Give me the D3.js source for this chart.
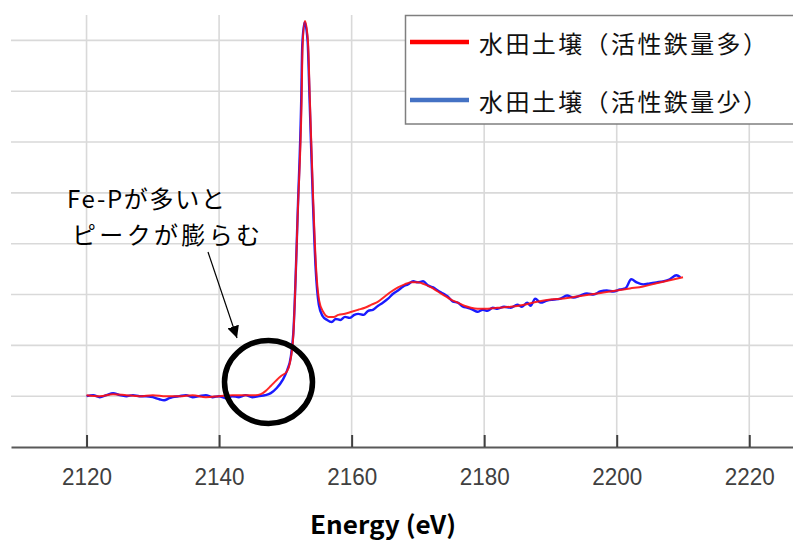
<!DOCTYPE html>
<html>
<head>
<meta charset="utf-8">
<script src="https://cdn.jsdelivr.net/npm/d3@7"></script>
<style>
  html, body { margin: 0; padding: 0; background: #fff; }
  svg { display: block; }
</style>
</head>
<body>
<svg id="chart"></svg>
<script>
'use strict';

/* Tick labels of the energy axis (eV) */
var xTicks = [2120, 2140, 2160, 2180, 2200, 2220];
/* Normalised absorbance grid (no labels shown in the original) */
var yGrid = [0, 0.5, 1, 1.5, 2, 2.5, 3, 3.5];

var seriesNames = ['水田土壌（活性鉄量多）', '水田土壌（活性鉄量少）'];

/* [energy, normalised absorbance] */
var highFe = [
  [2120, 0.01], [2122, 0.00], [2124, 0.02], [2126, 0.01], [2128, 0.00],
  [2130, 0.01], [2132, 0.00], [2134, 0.00], [2136, 0.01], [2138, -0.01],
  [2140, 0.00], [2142, 0.01], [2144, 0.01], [2145.5, 0.01], [2146.3, 0.02],
  [2147.0, 0.05], [2147.8, 0.10], [2148.7, 0.16], [2149.4, 0.20], [2150.2, 0.24],
  [2150.7, 0.33], [2151.2, 0.60], [2151.9, 1.85], [2152.45, 2.91], [2152.6, 3.45],
  [2152.95, 3.69], [2153.4, 3.50], [2153.7, 2.91], [2154.2, 1.93], [2154.6, 1.30],
  [2155.1, 0.94], [2155.7, 0.83], [2156.5, 0.78], [2157.3, 0.78], [2158, 0.80],
  [2159, 0.81], [2160, 0.83], [2161, 0.85], [2162, 0.87], [2163, 0.90],
  [2164, 0.93], [2165, 0.98], [2166, 1.03], [2167, 1.07], [2168, 1.10],
  [2169, 1.12], [2170, 1.12], [2171, 1.10], [2172, 1.07], [2173, 1.03],
  [2174, 0.99], [2175, 0.95], [2176, 0.92], [2177, 0.89], [2178, 0.87],
  [2179, 0.86], [2180, 0.86], [2182, 0.87], [2184, 0.88], [2186, 0.90],
  [2188, 0.93], [2190, 0.95], [2192, 0.96], [2194, 0.98], [2196, 1.00],
  [2198, 1.02], [2200, 1.04], [2202, 1.06], [2204, 1.08], [2206, 1.11],
  [2208, 1.14], [2210, 1.17]
];

var lowFe = [
  [2120, 0.00], [2121, 0.01], [2122, -0.01], [2123, 0.01], [2124, 0.03],
  [2125, 0.01], [2126, 0.00], [2127, 0.01], [2128, 0.00], [2129, 0.00],
  [2130, -0.01], [2131, -0.03], [2131.7, -0.04], [2132.5, -0.02], [2133, -0.01],
  [2134, 0.00], [2135, 0.01], [2136, -0.01], [2137, 0.00], [2138, 0.01],
  [2139, -0.01], [2140, 0.00], [2141, -0.02], [2142, 0.00], [2143, -0.01],
  [2144, 0.01], [2145, -0.01], [2146, 0.00], [2147, 0.01], [2147.8, 0.03],
  [2148.7, 0.08], [2149.6, 0.16], [2150.3, 0.26], [2150.8, 0.38], [2151.2, 0.62],
  [2151.9, 1.88], [2152.4, 2.93], [2152.55, 3.45], [2152.9, 3.68], [2153.35, 3.50],
  [2153.65, 2.93], [2154.15, 1.93], [2154.55, 1.28], [2155.05, 0.90], [2155.6, 0.79],
  [2156.3, 0.75], [2157, 0.73], [2157.6, 0.76], [2158.3, 0.75], [2159, 0.78],
  [2159.7, 0.77], [2160.4, 0.80], [2161, 0.81], [2161.8, 0.80], [2162.5, 0.84],
  [2163.2, 0.85], [2164, 0.89], [2164.7, 0.92], [2165.5, 0.96], [2166.3, 1.01],
  [2167, 1.04], [2167.8, 1.08], [2168.5, 1.10], [2169.3, 1.13], [2170, 1.12],
  [2170.8, 1.13], [2171.5, 1.09], [2172.3, 1.07], [2173, 1.04], [2173.8, 1.01],
  [2174.5, 0.98], [2175.3, 0.93], [2176, 0.92], [2176.8, 0.88], [2177.5, 0.87],
  [2178.3, 0.85], [2179, 0.83], [2179.8, 0.85], [2180.5, 0.84], [2181.3, 0.87],
  [2182, 0.86], [2183, 0.88], [2184, 0.87], [2185, 0.90], [2185.7, 0.88],
  [2186.5, 0.92], [2187, 0.89], [2187.7, 0.96], [2188.5, 0.92], [2189.5, 0.94],
  [2190.5, 0.95], [2191.5, 0.96], [2192.5, 0.99], [2193.5, 0.97], [2194.5, 0.99],
  [2195.5, 1.01], [2196.5, 1.00], [2197.5, 1.03], [2198.5, 1.04], [2199.5, 1.03],
  [2200.5, 1.05], [2201.3, 1.06], [2202.2, 1.15], [2203, 1.12], [2204, 1.10],
  [2205, 1.11], [2206, 1.12], [2207, 1.13], [2208, 1.15], [2209, 1.19],
  [2209.6, 1.17]
];

var width = 793;
var height = 543;

var svg = d3.select('#chart')
  .attr('width', width)
  .attr('height', height);

/* Scales */
var x = d3.scaleLinear().domain([2108.6, 2226.6]).range([11, 793]);
var y = d3.scaleLinear().domain([-0.5, 3.75]).range([447, 15]);

/* Grid */
var grid = svg.append('g').attr('class', 'grid');
grid.selectAll('.vgrid')
  .data(xTicks)
  .enter().append('line')
    .attr('x1', function(d) { return x(d); })
    .attr('x2', function(d) { return x(d); })
    .attr('y1', y(3.75))
    .attr('y2', y(-0.5))
    .attr('stroke', '#d9d9d9')
    .attr('stroke-width', 1.6);
grid.selectAll('.hgrid')
  .data(yGrid)
  .enter().append('line')
    .attr('x1', 11)
    .attr('x2', width)
    .attr('y1', function(d) { return y(d); })
    .attr('y2', function(d) { return y(d); })
    .attr('stroke', '#d9d9d9')
    .attr('stroke-width', 1.6);

/* x axis, ticks pointing inwards */
var xAxis = d3.axisBottom(x)
  .tickValues(xTicks)
  .tickSizeInner(-12)
  .tickSizeOuter(0)
  .tickPadding(21)
  .tickFormat(d3.format('d'));

var gX = svg.append('g')
  .attr('class', 'x axis')
  .attr('transform', 'translate(0,' + y(-0.5) + ')')
  .call(xAxis);
gX.select('.domain').attr('stroke', '#595959').attr('stroke-width', 2);
gX.selectAll('.tick line').attr('stroke', '#404040').attr('stroke-width', 2);
gX.selectAll('.tick text')
  .attr('fill', '#404040')
  .style('font-family', '"Liberation Sans", Arial, sans-serif')
  .style('font-size', '24px')
  .attr('textLength', 50)
  .attr('lengthAdjust', 'spacingAndGlyphs');

svg.append('text')
  .attr('x', 310)
  .attr('y', 534)
  .attr('textLength', 146)
  .attr('lengthAdjust', 'spacingAndGlyphs')
  .style('font-family', '"Noto Sans CJK JP", sans-serif')
  .style('font-weight', 'bold')
  .style('font-size', '25px')
  .attr('fill', '#000')
  .text('Energy (eV)');

/* Spectra */
var line = d3.line()
  .x(function(d) { return x(d[0]); })
  .y(function(d) { return y(d[1]); })
  .curve(d3.curveMonotoneX);

svg.append('path')
  .datum(lowFe)
  .attr('fill', 'none')
  .attr('stroke', '#1a1aff')
  .attr('stroke-width', 2.4)
  .attr('stroke-linejoin', 'round')
  .attr('d', line);

svg.append('path')
  .datum(highFe)
  .attr('fill', 'none')
  .attr('stroke', '#ff1010')
  .attr('stroke-width', 2)
  .attr('stroke-opacity', 0.9)
  .attr('stroke-linejoin', 'round')
  .attr('d', line);

/* Annotation: circle round the pre-edge, arrow and note */
svg.append('ellipse')
  .attr('cx', 268.5)
  .attr('cy', 382)
  .attr('rx', 44)
  .attr('ry', 41.5)
  .attr('fill', 'none')
  .attr('stroke', '#000')
  .attr('stroke-width', 5.5);

svg.append('defs').append('marker')
  .attr('id', 'arrow')
  .attr('viewBox', '0 0 10 10')
  .attr('refX', 10)
  .attr('refY', 5)
  .attr('markerWidth', 12)
  .attr('markerHeight', 12)
  .attr('markerUnits', 'userSpaceOnUse')
  .attr('orient', 'auto')
  .append('path')
    .attr('d', 'M0,0L10,5L0,10z')
    .attr('fill', '#000');

svg.append('line')
  .attr('x1', 208)
  .attr('y1', 252)
  .attr('x2', 237)
  .attr('y2', 338)
  .attr('stroke', '#000')
  .attr('stroke-width', 1.2)
  .attr('marker-end', 'url(#arrow)');

var note = svg.append('g')
  .style('font-family', '"Noto Sans CJK JP", sans-serif')
  .style('font-size', '24px')
  .attr('fill', '#000');
note.append('text')
  .attr('x', 67)
  .attr('y', 197)
  .attr('dominant-baseline', 'central')
  .attr('textLength', 158)
  .text('Fe-Pが多いと');
note.append('text')
  .attr('x', 72)
  .attr('y', 233)
  .attr('dominant-baseline', 'central')
  .attr('textLength', 188)
  .text('ピークが膨らむ');

/* Legend */
var legend = svg.append('g').attr('class', 'legend');
legend.append('rect')
  .attr('x', 405.5)
  .attr('y', 15.5)
  .attr('width', 400)
  .attr('height', 108.5)
  .attr('fill', '#fff')
  .attr('stroke', '#7f7f7f')
  .attr('stroke-width', 1.5);

var legendColors = ['#ff0000', '#4472c4'];
var legendRows = [42, 100];

legend.selectAll('.key')
  .data(seriesNames)
  .enter().append('line')
    .attr('x1', 410)
    .attr('x2', 469)
    .attr('y1', function(d, i) { return legendRows[i]; })
    .attr('y2', function(d, i) { return legendRows[i]; })
    .attr('stroke', function(d, i) { return legendColors[i]; })
    .attr('stroke-width', 4.5);

legend.selectAll('.label')
  .data(seriesNames)
  .enter().append('text')
    .attr('x', 479)
    .attr('y', function(d, i) { return legendRows[i]; })
    .attr('dominant-baseline', 'central')
    .attr('textLength', 288)
    .style('font-family', '"Noto Sans CJK JP", sans-serif')
    .style('font-size', '24px')
    .attr('fill', '#111')
    .text(function(d) { return d; });
</script>
</body>
</html>
